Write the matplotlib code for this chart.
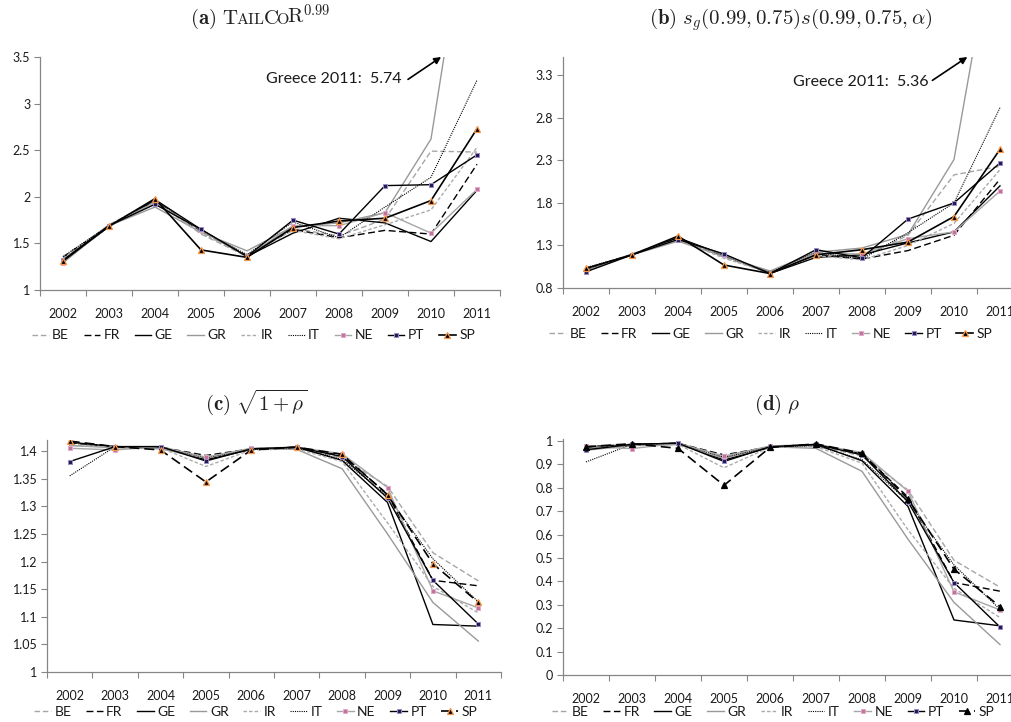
import matplotlib
matplotlib.use('Agg')
import matplotlib.pyplot as plt
import numpy as np
from matplotlib.transforms import IdentityTransform

plt.rcParams['font.family'] = ['Lato', 'DejaVu Sans']
plt.rcParams['mathtext.fontset'] = 'cm'

years = ['2002', '2003', '2004', '2005', '2006', '2007', '2008', '2009', '2010', '2011']
countries = ['BE', 'FR', 'GE', 'GR', 'IR', 'IT', 'NE', 'PT', 'SP']

# (a) TailCoR 0.99
tailcor = {
    'BE': [1.33, 1.70, 1.96, 1.60, 1.36, 1.66, 1.58, 1.76, 2.49, 2.48],
    'FR': [1.35, 1.69, 1.95, 1.63, 1.37, 1.65, 1.56, 1.64, 1.60, 2.35],
    'GE': [1.31, 1.68, 1.97, 1.65, 1.36, 1.61, 1.77, 1.72, 1.52, 2.07],
    'GR': [1.30, 1.69, 1.89, 1.62, 1.42, 1.68, 1.72, 1.83, 2.62, 5.74],
    'IR': [1.34, 1.70, 1.94, 1.61, 1.37, 1.64, 1.55, 1.70, 1.86, 2.53],
    'IT': [1.36, 1.69, 1.96, 1.64, 1.38, 1.73, 1.56, 1.89, 2.21, 3.25],
    'NE': [1.29, 1.69, 1.94, 1.64, 1.36, 1.69, 1.69, 1.83, 1.61, 2.08],
    'PT': [1.32, 1.69, 1.92, 1.65, 1.36, 1.75, 1.60, 2.12, 2.13, 2.45],
    'SP': [1.31, 1.685, 1.98, 1.43, 1.35, 1.67, 1.74, 1.77, 1.96, 2.73],
}

# (b) s_g(0.99, 0.75) s(0.99, 0.75, alpha)
sg_s = {
    'BE': [1.02, 1.20, 1.39, 1.16, 0.98, 1.20, 1.16, 1.42, 2.13, 2.23],
    'FR': [1.03, 1.19, 1.38, 1.18, 0.98, 1.19, 1.14, 1.24, 1.42, 2.08],
    'GE': [1.01, 1.19, 1.39, 1.19, 0.97, 1.16, 1.19, 1.33, 1.46, 2.00],
    'GR': [1.00, 1.19, 1.35, 1.17, 1.00, 1.22, 1.27, 1.43, 2.31, 5.36],
    'IR': [1.02, 1.20, 1.37, 1.15, 0.98, 1.18, 1.13, 1.30, 1.56, 2.19],
    'IT': [1.04, 1.19, 1.39, 1.18, 0.98, 1.22, 1.14, 1.45, 1.80, 2.92],
    'NE': [1.00, 1.19, 1.37, 1.19, 0.97, 1.21, 1.20, 1.38, 1.46, 1.94],
    'PT': [0.99, 1.19, 1.37, 1.20, 0.97, 1.25, 1.155, 1.61, 1.80, 2.27],
    'SP': [1.03, 1.19, 1.41, 1.07, 0.97, 1.19, 1.25, 1.34, 1.64, 2.43],
}

# (c) sqrt(1 + rho)
sqrt_rho = {
    'BE': [1.412, 1.408, 1.405, 1.385, 1.403, 1.405, 1.388, 1.336, 1.216, 1.165],
    'FR': [1.415, 1.408, 1.407, 1.392, 1.404, 1.407, 1.392, 1.322, 1.166, 1.156],
    'GE': [1.416, 1.408, 1.408, 1.384, 1.403, 1.407, 1.383, 1.307, 1.086, 1.083],
    'GR': [1.410, 1.406, 1.404, 1.387, 1.404, 1.403, 1.368, 1.250, 1.126, 1.056],
    'IR': [1.410, 1.407, 1.406, 1.372, 1.402, 1.404, 1.381, 1.270, 1.155, 1.107],
    'IT': [1.355, 1.408, 1.407, 1.388, 1.403, 1.406, 1.385, 1.318, 1.205, 1.127],
    'NE': [1.405, 1.402, 1.408, 1.389, 1.405, 1.407, 1.395, 1.334, 1.147, 1.116],
    'PT': [1.381, 1.408, 1.408, 1.382, 1.404, 1.407, 1.390, 1.315, 1.166, 1.087],
    'SP': [1.418, 1.408, 1.402, 1.344, 1.402, 1.407, 1.394, 1.321, 1.196, 1.126],
}

# (d) rho
rho = {
    'BE': [0.965, 0.985, 0.985, 0.930, 0.975, 0.980, 0.935, 0.790, 0.490, 0.375],
    'FR': [0.975, 0.985, 0.990, 0.940, 0.975, 0.985, 0.945, 0.760, 0.395, 0.358],
    'GE': [0.972, 0.985, 0.990, 0.918, 0.972, 0.985, 0.915, 0.720, 0.235, 0.210],
    'GR': [0.960, 0.980, 0.984, 0.925, 0.975, 0.968, 0.870, 0.580, 0.310, 0.130],
    'IR': [0.965, 0.984, 0.985, 0.885, 0.973, 0.975, 0.905, 0.620, 0.370, 0.245],
    'IT': [0.910, 0.985, 0.990, 0.930, 0.974, 0.980, 0.920, 0.740, 0.470, 0.280],
    'NE': [0.976, 0.967, 0.990, 0.935, 0.978, 0.985, 0.950, 0.785, 0.355, 0.278],
    'PT': [0.962, 0.985, 0.990, 0.912, 0.975, 0.985, 0.940, 0.740, 0.395, 0.205],
    'SP': [0.975, 0.988, 0.968, 0.810, 0.972, 0.987, 0.947, 0.752, 0.452, 0.292],
}

base_style = {
    'BE': dict(color='#A6A6A6', lw=1.0, dashes=(4, 2)),
    'FR': dict(color='black', lw=1.0, dashes=(5, 2.5)),
    'GE': dict(color='black', lw=1.0),
    'GR': dict(color='#999999', lw=1.0),
    'IR': dict(color='#ABABAB', lw=1.0, dashes=(2.5, 1.5)),
    'IT': dict(color='black', lw=0.8, dashes=(1, 1)),
    'NE': dict(color='#A6A6A6', lw=1.0, marker='s', ms=3.5, mfc='#C0749B', mec='#E3A9C9', mew=0.7),
    'PT': dict(color='black', lw=1.0, marker='s', ms=3.5, mfc='#231C4F', mec='#9C88C8', mew=0.7),
    'SP': dict(color='black', lw=1.2, marker='^', ms=5, mfc='black', mec='#F79646', mew=0.9),
}

W, H = 1011, 722
fig = plt.figure(figsize=(W / 100, H / 100), dpi=100)


def px_axes(x0, y0, x1, y1):
    return fig.add_axes([x0 / W, 1 - y1 / H, (x1 - x0) / W, (y1 - y0) / H])


def panel(ax, data, yticks, ylim, sp_style=None, leg_x=0.46, leg_y=-0.185):
    x = np.arange(len(years))
    for c in countries:
        st = dict(base_style[c])
        if c == 'SP' and sp_style:
            st.update(sp_style)
        ax.plot(x, data[c], label=c, **st)
    ax.set_xlim(-0.5, 9.5)
    ax.set_ylim(*ylim)
    ax.set_xticks(np.arange(-0.5, 10, 1))
    ax.set_xticklabels([])
    ax.set_xticks(x, minor=True)
    ax.set_xticklabels(years, minor=True)
    ax.tick_params(axis='x', which='major', length=4, color='#868686', direction='out')
    ax.tick_params(axis='x', which='minor', length=0, pad=13, labelsize=9, labelcolor='#1a1a1a')
    ax.set_yticks(yticks)
    ax.set_yticklabels(['{:g}'.format(v) for v in yticks])
    ax.tick_params(axis='y', length=4, color='#868686', labelsize=9, labelcolor='#1a1a1a', pad=3)
    for s in ['top', 'right']:
        ax.spines[s].set_visible(False)
    for s in ['left', 'bottom']:
        ax.spines[s].set_color('#868686')
        ax.spines[s].set_linewidth(0.9)
    ax.legend(loc='center', bbox_to_anchor=(leg_x, leg_y), ncol=9, frameon=False,
              fontsize=10, handlelength=1.2, handletextpad=0.25, columnspacing=1.05,
              borderaxespad=0, labelcolor='#1a1a1a')


def greece_note(ax, label, tip, tail, text_xy):
    ax.annotate('', xy=tip, xytext=tail,
                arrowprops=dict(arrowstyle='-|>', color='black', lw=1.2, mutation_scale=10,
                                shrinkA=0, shrinkB=0), annotation_clip=False)
    ax.text(text_xy[0], text_xy[1], label, ha='right', va='center', fontsize=11.5,
            color='#1a1a1a')


ax_a = px_axes(40, 57, 500, 290)
panel(ax_a, tailcor, [1, 1.5, 2, 2.5, 3, 3.5], (1, 3.5), leg_x=0.464, leg_y=-0.195)
greece_note(ax_a, 'Greece 2011:  5.74', (8.22, 3.5), (7.5, 3.26), (7.36, 3.26))

ax_b = px_axes(563, 57, 1023, 288)
panel(ax_b, sg_s, [0.8, 1.3, 1.8, 2.3, 2.8, 3.3], (0.8, 3.515), leg_x=0.452, leg_y=-0.2)
greece_note(ax_b, 'Greece 2011:  5.36', (8.29, 3.515), (7.53, 3.24), (7.44, 3.22))

ax_c = px_axes(47, 440, 501, 672)
panel(ax_c, sqrt_rho, [1, 1.05, 1.1, 1.15, 1.2, 1.25, 1.3, 1.35, 1.4], (1, 1.42),
      sp_style=dict(dashes=(6, 3)), leg_x=0.46, leg_y=-0.172)

ax_d = px_axes(563, 439, 1023, 675)
panel(ax_d, rho, [0, 0.1, 0.2, 0.3, 0.4, 0.5, 0.6, 0.7, 0.8, 0.9, 1], (0, 1.008),
      sp_style=dict(dashes=(6, 3), mec='black'), leg_x=0.457, leg_y=-0.156)

# titles (LaTeX look)
renderer = fig.canvas.get_renderer()


def chunk_title(cx, base_y, parts, overlap=0):
    texts = []
    for s, size in parts:
        texts.append(fig.text(0, 0, s, fontsize=size, transform=IdentityTransform(),
                              ha='left', va='baseline', color='#222222'))
    widths = [t.get_window_extent(renderer).width - overlap for t in texts]
    x = cx - sum(widths) / 2
    for t, w in zip(texts, widths):
        t.set_position((x, H - base_y))
        x += w


chunk_title(259, 24, [(r'$\mathbf{(a)}\ \mathrm{T}$', 15), (r'$\mathrm{AIL}$', 11.5),
                      (r'$\mathrm{C}$', 15), (r'$\mathrm{O}$', 11.5),
                      (r'$\mathrm{R}^{0.99}$', 15)], overlap=2.5)
chunk_title(791, 24, [(r'$\mathbf{(b)}\ s_g(0.99, 0.75)s(0.99, 0.75, \alpha)$', 15)])
chunk_title(256, 410, [(r'$\mathbf{(c)}\ \sqrt{1+\rho}$', 15)])
chunk_title(777, 410, [(r'$\mathbf{(d)}\ \rho$', 15)])

fig.savefig('out.png', dpi=100)
